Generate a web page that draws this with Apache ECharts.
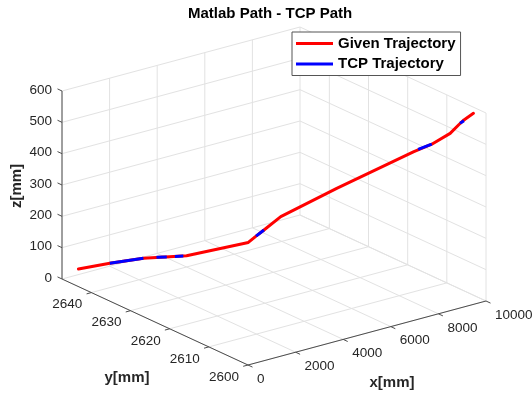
<!DOCTYPE html>
<html>
<head>
<meta charset="utf-8">
<title>Matlab Path - TCP Path</title>
<script src="https://cdn.jsdelivr.net/npm/echarts@6/dist/echarts.min.js"></script>
<style>
html, body { margin: 0; padding: 0; background: #fff; }
#main { width: 532px; height: 396px; }
</style>
</head>
<body>
<div id="main"></div>
<script>
// axis limits and ticks (mm)
var xLim = [0, 10000];
var yLim = [2600, 2647.5];
var zLim = [0, 600];
var xTicks = [0, 2000, 4000, 6000, 8000, 10000];
var yTicks = [2600, 2610, 2620, 2630, 2640];
var zTicks = [0, 100, 200, 300, 400, 500, 600];

// given trajectory (mm)
var givenX = [0, 792, 1627, 2715, 4259, 4452, 4653, 5079, 6475, 8396, 8857, 9316, 9541, 9666, 9900];
var givenY = [2643.3, 2640.1, 2636.6, 2632.2, 2625.8, 2625.0, 2624.2, 2622.5, 2616.7, 2608.8, 2606.9, 2605.0, 2604.1, 2603.6, 2602.6];
var givenZ = [56, 77, 96, 107, 155, 176, 196, 240, 335, 458, 484, 520, 549, 564, 586];

// TCP trajectory, only the pieces that show above the given one (null = gap)
var tcpX = [792, 1627, null, 1963, 2214, null, 2422, 2630, null, 4452, 4653, null, 8513, 8857, null, 9567, 9667];
var tcpY = [2640.1, 2636.6, null, 2635.3, 2634.2, null, 2633.4, 2632.5, null, 2625.0, 2624.2, null, 2608.3, 2606.9, null, 2604.0, 2603.6];
var tcpZ = [77, 96, null, 100, 102, null, 104, 106, null, 176, 196, null, 466, 484, null, 553, 561];

document.addEventListener('DOMContentLoaded', function () {
    char3d();
});

// where the box sits on the flat (hidden) plane: front-bottom corner and the three edges
var view = { ox: 248, oy: 365, ex: [238, -64], ey: [-186, -86], ez: [0, -188] };

function proj(x, y, z) {
    var u = (x - xLim[0]) / (xLim[1] - xLim[0]);
    var v = (y - yLim[0]) / (yLim[1] - yLim[0]);
    var w = (z - zLim[0]) / (zLim[1] - zLim[0]);
    return [view.ox + u * view.ex[0] + v * view.ey[0] + w * view.ez[0],
            view.oy + u * view.ex[1] + v * view.ey[1] + w * view.ez[1]];
}

function seg(list, a, b) {
    var p = proj(a[0], a[1], a[2]), q = proj(b[0], b[1], b[2]);
    list.push([p[0], p[1], q[0], q[1]]);
}

function path(xs, ys, zs) {
    return xs.map(function (x, i) {
        return x === null ? ['-', '-'] : proj(x, ys[i], zs[i]);
    });
}

function char3d() {

    var myChart = echarts.init(document.getElementById('main'));
    var font = "'Liberation Sans', Arial, sans-serif";

    var x0 = xLim[0], x1 = xLim[1], y0 = yLim[0], y1 = yLim[1], z0 = zLim[0], z1 = zLim[1];

    // grid on floor and the two back walls
    var gridSegs = [];
    xTicks.forEach(function (x) {
        seg(gridSegs, [x, y0, z0], [x, y1, z0]);
        seg(gridSegs, [x, y1, z0], [x, y1, z1]);
    });
    yTicks.forEach(function (y) {
        seg(gridSegs, [x0, y, z0], [x1, y, z0]);
        seg(gridSegs, [x1, y, z0], [x1, y, z1]);
    });
    zTicks.forEach(function (z) {
        seg(gridSegs, [x0, y1, z], [x1, y1, z]);
        seg(gridSegs, [x1, y0, z], [x1, y1, z]);
    });

    // axis lines + tick marks + labels
    var axisSegs = [];
    var labels = [];
    seg(axisSegs, [x0, y0, z0], [x1, y0, z0]);
    seg(axisSegs, [x0, y0, z0], [x0, y1, z0]);
    seg(axisSegs, [x0, y1, z0], [x0, y1, z1]);

    xTicks.forEach(function (x) {
        var p = proj(x, y0, z0);
        axisSegs.push([p[0], p[1], p[0] + 4.5, p[1] + 2.1]);
        labels.push({ p: [p[0] + 9, p[1] + 14], text: String(x), align: 'left', size: 13.5 });
    });
    yTicks.forEach(function (y) {
        var p = proj(x0, y, z0);
        axisSegs.push([p[0], p[1], p[0] - 4.8, p[1] + 1.3]);
        labels.push({ p: [p[0] - 9, p[1] + 12], text: String(y), align: 'right', size: 13.5 });
    });
    zTicks.forEach(function (z) {
        var p = proj(x0, y1, z);
        axisSegs.push([p[0], p[1], p[0] - 4.5, p[1] - 2.1]);
        labels.push({ p: [p[0] - 10, p[1] - 1], text: String(z), align: 'right', size: 13.5 });
    });

    var xm = proj((x0 + x1) / 2, y0, z0);
    var ym = proj(x0, (y0 + y1) / 2, z0);
    var zm = proj(x0, y1, (z0 + z1) / 2);
    labels.push({ p: [xm[0] + 25, xm[1] + 50], text: 'x[mm]', align: 'center', size: 15, bold: true });
    labels.push({ p: [ym[0] - 28, ym[1] + 56], text: 'y[mm]', align: 'center', size: 15, bold: true });
    labels.push({ p: [zm[0] - 45, zm[1] + 1], text: 'z[mm]', align: 'center', size: 15, bold: true, rotate: Math.PI / 2 });

    function renderSeg(color) {
        return function (params, api) {
            var a = api.coord([api.value(0), api.value(1)]);
            var b = api.coord([api.value(2), api.value(3)]);
            return {
                type: 'line',
                shape: { x1: a[0], y1: a[1], x2: b[0], y2: b[1] },
                style: { stroke: color, lineWidth: 1 }
            };
        };
    }

    option = {
        backgroundColor: '#ffffff',
        animation: false,
        title: {
            text: 'Matlab Path - TCP Path',
            left: 188,
            top: 6,
            padding: 0,
            textStyle: { color: '#000', fontSize: 15, fontWeight: 'bold', fontFamily: font }
        },
        legend: {
            data: [
                { name: 'Given Trajectory', icon: 'rect' },
                { name: 'TCP Trajectory', icon: 'rect' }
            ],
            orient: 'vertical',
            left: 292,
            top: 32,
            padding: [4, 5, 4, 4],
            itemGap: 5.5,
            itemWidth: 37,
            itemHeight: 3,
            itemTextGap: 5,
            backgroundColor: '#fff',
            borderColor: '#555',
            borderWidth: 1,
            borderRadius: 0,
            textStyle: { color: '#000', fontSize: 15, fontWeight: 'bold', fontFamily: font },
            selectedMode: false
        },
        grid: { left: 0, right: 0, top: 0, bottom: 0 },
        xAxis: { type: 'value', min: 0, max: 532, show: false },
        yAxis: { type: 'value', min: 0, max: 396, inverse: true, show: false },
        series: [
            {
                name: 'grid',
                type: 'custom',
                renderItem: renderSeg('#e2e2e2'),
                encode: { x: [0, 2], y: [1, 3] },
                data: gridSegs,
                silent: true,
                z: 1
            },
            {
                name: 'axes',
                type: 'custom',
                renderItem: renderSeg('#4d4d4d'),
                encode: { x: [0, 2], y: [1, 3] },
                data: axisSegs,
                silent: true,
                z: 2
            },
            {
                name: 'labels',
                type: 'custom',
                renderItem: function (params, api) {
                    var l = labels[params.dataIndex];
                    var c = api.coord([api.value(0), api.value(1)]);
                    return {
                        type: 'text',
                        x: c[0],
                        y: c[1],
                        rotation: l.rotate || 0,
                        style: {
                            text: l.text,
                            fill: '#262626',
                            font: (l.bold ? 'bold ' : '') + l.size + 'px ' + font,
                            align: l.align,
                            verticalAlign: 'middle',
                            textAlign: l.align,
                            textVerticalAlign: 'middle'
                        }
                    };
                },
                encode: { x: 0, y: 1 },
                data: labels.map(function (l) { return l.p; }),
                silent: true,
                z: 3
            },
            {
                name: 'Given Trajectory',
                type: 'line',
                color: '#ff0000',
                showSymbol: false,
                symbol: 'none',
                lineStyle: { color: '#ff0000', width: 3, cap: 'round', join: 'round' },
                data: path(givenX, givenY, givenZ),
                z: 4
            },
            {
                name: 'TCP Trajectory',
                type: 'line',
                color: '#0000ff',
                showSymbol: false,
                symbol: 'none',
                connectNulls: false,
                lineStyle: { color: '#0000ff', width: 3, join: 'round' },
                data: path(tcpX, tcpY, tcpZ),
                z: 5
            }
        ]
    };

    myChart.setOption(option);
    window.addEventListener('resize', function () { myChart.resize(); });
}
</script>
</body>
</html>
